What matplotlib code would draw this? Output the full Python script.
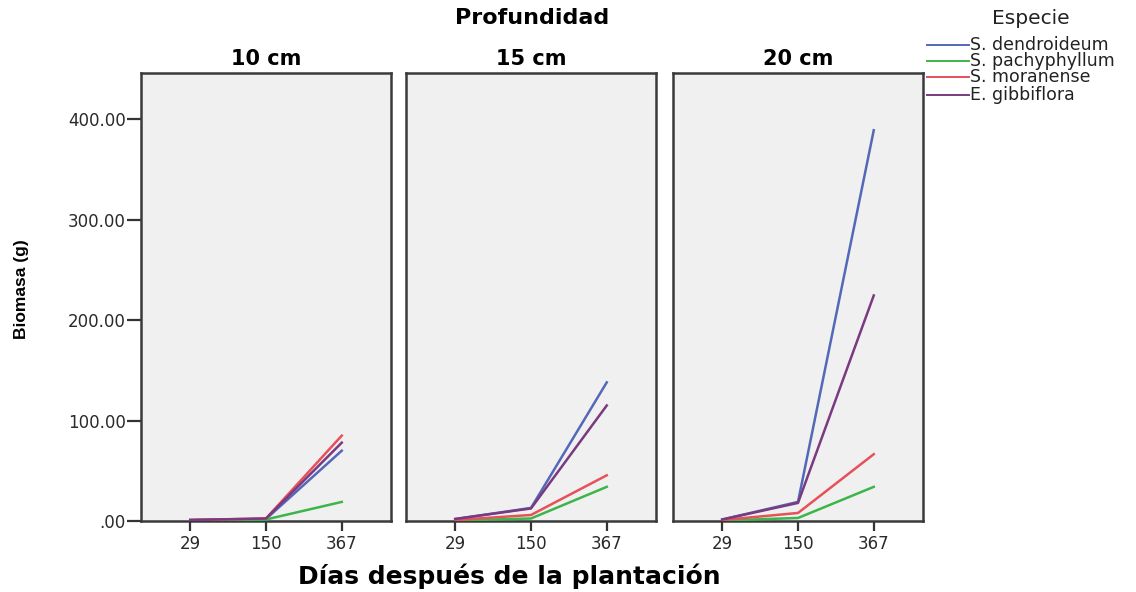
import matplotlib
matplotlib.use("Agg")
import matplotlib.pyplot as plt
from matplotlib.lines import Line2D

# datos
dias = ["29", "150", "367"]
profundidades = ["10 cm", "15 cm", "20 cm"]
especies = ["S. dendroideum", "S. pachyphyllum", "S. moranense", "E. gibbiflora"]
colores = ["#5468b8", "#3cb54a", "#e8505a", "#7a3a80"]

# biomasa (g) por profundidad, una lista por especie (29, 150, 367 dias)
biomasa_10 = [[1.0, 2.0, 70.0], [0.5, 1.5, 19.0], [1.0, 2.5, 85.0], [1.0, 2.5, 78.0]]
biomasa_15 = [[2.0, 13.0, 138.0], [0.5, 2.5, 34.0], [1.0, 6.0, 45.5], [2.0, 12.5, 115.0]]
biomasa_20 = [[1.5, 19.0, 389.0], [0.5, 3.0, 34.0], [1.0, 8.0, 66.5], [1.5, 18.0, 224.5]]
biomasa = [biomasa_10, biomasa_15, biomasa_20]

plt.rcParams['font.family'] = ['DejaVu Sans']

fig = plt.figure(figsize=(11.36, 5.92), dpi=100)
W, H = 1136, 592
lefts = [141, 406, 673]
ancho = 250
arriba, abajo = 73, 521

for i, izq in enumerate(lefts):
    ax = fig.add_axes([izq / W, 1 - abajo / H, ancho / W, (abajo - arriba) / H])
    ax.set_facecolor("#f0f0f0")
    for serie, col in zip(biomasa[i], colores):
        ax.plot(range(len(dias)), serie, color=col, linewidth=1.8, zorder=3)
    ax.set_xlim(-0.65, 2.65)
    ax.set_ylim(0, 446)
    ax.set_xticks(range(len(dias)))
    ax.set_xticklabels(dias, fontsize=12, color="#2a2a2a")
    ax.set_yticks([0, 100, 200, 300, 400])
    if i == 0:
        ax.set_yticklabels([".00", "100.00", "200.00", "300.00", "400.00"],
                           fontsize=12, color="#2a2a2a")
    else:
        ax.tick_params(axis="y", left=False, labelleft=False)
    ax.tick_params(axis="x", direction="out", length=7, width=1.6, color="#333333", pad=3)
    ax.tick_params(axis="y", direction="out", length=10, width=1.6, color="#333333", pad=1)
    for s in ax.spines.values():
        s.set_linewidth(1.8)
        s.set_color("#3a3a3a")
    ax.set_title(profundidades[i], fontsize=15, fontweight="bold", pad=6)

fig.text(532 / W, 1 - 18 / H, "Profundidad", ha="center", va="center",
         fontsize=16, fontweight="bold")
fig.text(509 / W, 1 - 576 / H, "Días después de la plantación", ha="center",
         va="center", fontsize=18, fontweight="bold")
fig.text(22 / W, 1 - 289 / H, "Biomasa (g)", rotation=90, ha="center", va="center",
         fontsize=12.5, fontweight="bold",
         family=["Liberation Sans Narrow", "Liberation Sans", "DejaVu Sans"])

# leyenda
fig.text(1031 / W, 1 - 18 / H, "Especie", ha="center", va="center", fontsize=14.5,
         color="#222222")
filas = [45, 61, 77, 95]
for y, nombre, col in zip(filas, especies, colores):
    fig.add_artist(Line2D([927 / W, 969 / W], [1 - y / H, 1 - y / H], color=col,
                          linewidth=1.4, transform=fig.transFigure))
    fig.text(970 / W, 1 - y / H, nombre, ha="left", va="center", fontsize=12.5,
             color="#222222")

fig.savefig("out.png", dpi=100)
